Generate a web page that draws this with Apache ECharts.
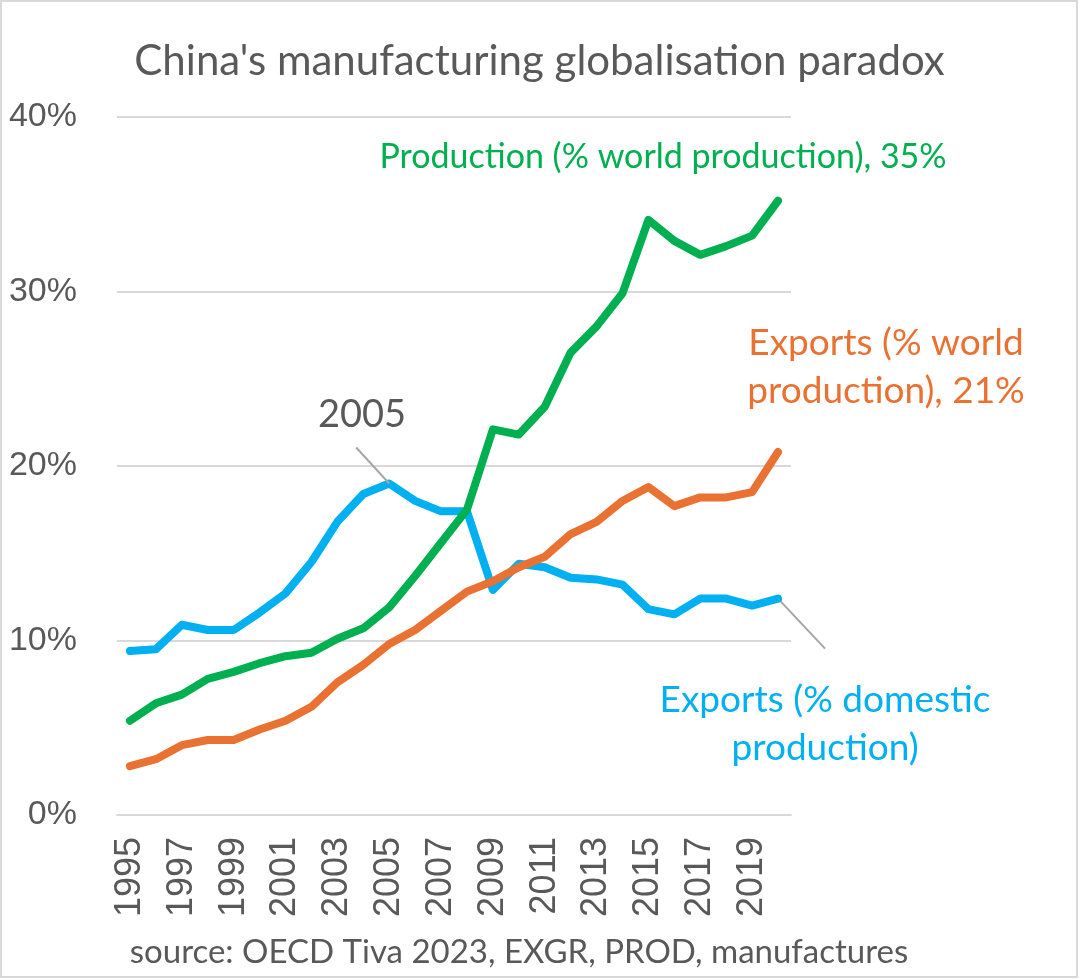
<!DOCTYPE html>
<html>
<head>
<meta charset="utf-8">
<title>China's manufacturing globalisation paradox</title>
<script src="https://cdn.jsdelivr.net/npm/echarts@6/dist/echarts.min.js"></script>
<style>
  html, body { margin: 0; padding: 0; background: #ffffff; }
  #chart { width: 1079px; height: 979px; }
</style>
</head>
<body>
<div id="chart"></div>
<script>
// Years shown on the category axis
const years = ['1995','1996','1997','1998','1999','2000','2001','2002','2003','2004',
  '2005','2006','2007','2008','2009','2010','2011','2012','2013','2014',
  '2015','2016','2017','2018','2019','2020'];

// Manufacturing production, % of world production
const productionShare = [5.4, 6.4, 6.9, 7.8, 8.2, 8.7, 9.1, 9.3, 10.1, 10.7,
  11.9, 13.7, 15.6, 17.5, 22.1, 21.8, 23.4, 26.5, 28.0, 29.9,
  34.1, 32.9, 32.1, 32.6, 33.2, 35.2];

// Manufacturing exports, % of world production
const exportsWorld = [2.8, 3.2, 4.0, 4.3, 4.3, 4.9, 5.4, 6.2, 7.6, 8.6,
  9.8, 10.6, 11.7, 12.8, 13.4, 14.2, 14.8, 16.1, 16.8, 18.0,
  18.8, 17.7, 18.2, 18.2, 18.5, 20.8];

// Manufacturing exports, % of domestic production
const exportsDomestic = [9.4, 9.5, 10.9, 10.6, 10.6, 11.6, 12.7, 14.5, 16.8, 18.4,
  19.0, 18.0, 17.4, 17.4, 12.9, 14.4, 14.2, 13.6, 13.5, 13.2,
  11.8, 11.5, 12.4, 12.4, 12.0, 12.4];

const yTicks = [0, 10, 20, 30, 40];

const GREEN = '#00B050';
const ORANGE = '#E97132';
const BLUE = '#00B0F0';
const GREY_TEXT = '#595959';
const GRID = '#D9D9D9';
const UI_FONT = "Lato, 'Open Sans', 'Noto Sans', sans-serif";
const AXIS_FONT = "'Liberation Sans', Arial, sans-serif";

const chart = echarts.init(document.getElementById('chart'), null, { renderer: 'canvas' });

function lineSeries(name, data, color) {
  return {
    name: name,
    type: 'line',
    data: data,
    symbol: 'none',
    smooth: false,
    lineStyle: { color: color, width: 8, cap: 'round', join: 'round' },
    emphasis: { disabled: true },
    z: 3
  };
}

const option = {
  animation: false,
  backgroundColor: '#ffffff',
  title: {
    text: "China's manufacturing globalisation paradox",
    left: 'center',
    top: 35,
    textStyle: { fontFamily: UI_FONT, fontSize: 42, fontWeight: 'normal', color: GREY_TEXT }
  },
  grid: { left: 117, right: 288, top: 117, bottom: 164, containLabel: false },
  xAxis: {
    type: 'category',
    data: years,
    boundaryGap: true,
    axisLine: { show: true, lineStyle: { color: GRID, width: 2 } },
    axisTick: { show: false },
    axisLabel: {
      interval: 1,
      rotate: 90,
      margin: 22,
      fontFamily: AXIS_FONT,
      fontSize: 36,
      color: GREY_TEXT
    },
    splitLine: { show: false }
  },
  yAxis: {
    type: 'value',
    min: yTicks[0],
    max: yTicks[yTicks.length - 1],
    interval: 10,
    axisLine: { show: false },
    axisTick: { show: false },
    axisLabel: {
      formatter: '{value}%',
      margin: 40,
      fontFamily: AXIS_FONT,
      fontSize: 34,
      color: GREY_TEXT
    },
    splitLine: { show: true, lineStyle: { color: GRID, width: 2 } }
  },
  series: [
    lineSeries('Exports (% domestic production)', exportsDomestic, BLUE),
    lineSeries('Exports (% world production)', exportsWorld, ORANGE),
    lineSeries('Production (% world production)', productionShare, GREEN)
  ]
};

chart.setOption(option);

// Leader lines start at data points, so look those up through the axes
const peakIdx = years.indexOf('2005');
const lastIdx = years.length - 1;
const peakPt = chart.convertToPixel({ gridIndex: 0 }, [peakIdx, exportsDomestic[peakIdx]]);
const lastPt = chart.convertToPixel({ gridIndex: 0 }, [lastIdx, exportsDomestic[lastIdx]]);

function label(text, x, y, color, size, align) {
  return {
    type: 'text',
    x: x, y: y,
    style: {
      text: text,
      fill: color,
      font: 'normal ' + size + 'px ' + UI_FONT,
      align: align || 'center',
      verticalAlign: 'middle',
      lineHeight: 48
    },
    z: 10
  };
}

chart.setOption({
  graphic: [
    {
      type: 'rect',
      shape: { x: 1, y: 1, width: 1076, height: 976 },
      style: { fill: 'none', stroke: '#D9D9D9', lineWidth: 2 },
      silent: true
    },
    label('Production (% world production), ' + Math.round(productionShare[lastIdx]) + '%',
      663, 157, GREEN, 34),
    label('Exports (% world\nproduction), ' + Math.round(exportsWorld[lastIdx]) + '%',
      886, 367, ORANGE, 37),
    label('Exports (% domestic\nproduction)', 825, 724, BLUE, 37),
    label(years[peakIdx], 362, 415, GREY_TEXT, 38),
    {
      type: 'line',
      shape: { x1: peakPt[0], y1: peakPt[1], x2: peakPt[0] - 33, y2: peakPt[1] - 36 },
      style: { stroke: '#A6A6A6', lineWidth: 2 },
      z: 4
    },
    {
      type: 'line',
      shape: { x1: lastPt[0], y1: lastPt[1], x2: lastPt[0] + 47, y2: lastPt[1] + 50 },
      style: { stroke: '#A6A6A6', lineWidth: 2 },
      z: 2
    },
    label('source: OECD Tiva 2023, EXGR, PROD, manufactures', 519, 952, GREY_TEXT, 33)
  ]
});
</script>
</body>
</html>
